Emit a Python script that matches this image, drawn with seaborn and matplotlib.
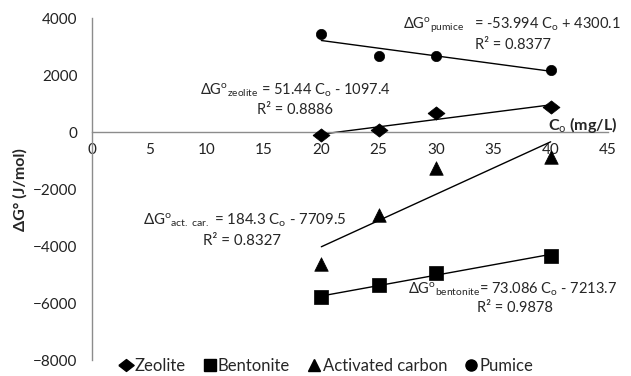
import numpy as np
import pandas as pd
import matplotlib
matplotlib.use("Agg")
import matplotlib.pyplot as plt
import seaborn as sns
from matplotlib.lines import Line2D

# ---- data ----
conc = [20, 25, 30, 40]
zeolite = [-98, 77, 685, 874]
bentonite = [-5798, -5377, -4934, -4348]
act_carbon = [-4646, -2908, -1257, -860]
pumice = [3438, 2676, 2676, 2195]
materials = ["Zeolite", "Bentonite", "Activated carbon", "Pumice"]
slopes = [51.44, 73.086, 184.3, -53.994]
intercepts = [-1097.4, -7213.7, -7709.5, 4300.1]
x_ticks = [0, 5, 10, 15, 20, 25, 30, 35, 40, 45]
y_ticks = [-8000, -6000, -4000, -2000, 0, 2000, 4000]

sns.set_style("white")
plt.rcParams["font.family"] = ["Lato", "DejaVu Sans"]
plt.rcParams["mathtext.fontset"] = "custom"
plt.rcParams["mathtext.rm"] = "Lato"
plt.rcParams["mathtext.it"] = "Lato:italic"
plt.rcParams["mathtext.bf"] = "Lato:bold"

df = pd.DataFrame({
    "Co": conc * 4,
    "dG": zeolite + bentonite + act_carbon + pumice,
    "Material": sum([[m] * len(conc) for m in materials], []),
})

fig = plt.figure(figsize=(6.31, 3.76), dpi=100)
ax = fig.add_axes([92 / 631, 1 - 360 / 376, (608 - 92) / 631, (360 - 18.3) / 376])

wide_diamond = [(-1, 0), (0, 0.78), (1, 0), (0, -0.78), (-1, 0)]
markers = {"Zeolite": wide_diamond, "Bentonite": "s", "Activated carbon": "^", "Pumice": "o"}
sizes_m = {"Zeolite": 150, "Bentonite": 92, "Activated carbon": 95, "Pumice": 55}
for m in materials:
    sub = df[df["Material"] == m]
    sns.scatterplot(data=sub, x="Co", y="dG", marker=markers[m], s=sizes_m[m],
                    color="black", edgecolor="black", linewidth=0.5, ax=ax, legend=False, zorder=3)

# trendlines
xx = np.array([20, 40])
for a, b in zip(slopes, intercepts):
    sns.lineplot(x=xx, y=a * xx + b, color="black", linewidth=1.0, ax=ax, zorder=2)

ax.set_xlim(0, 45)
ax.set_ylim(-8000, 4000)
ax.set_xticks(x_ticks)
ax.set_yticks(y_ticks)
ax.set_xlabel("")
ax.set_ylabel("")
ax.spines["bottom"].set_position(("data", 0))
ax.spines["top"].set_visible(False)
ax.spines["right"].set_visible(False)
for s in ["bottom", "left"]:
    ax.spines[s].set_color("#8c8c8c")
    ax.spines[s].set_linewidth(1.0)
ax.tick_params(axis="x", direction="out", length=4, color="#8c8c8c", labelsize=11, pad=4)
ax.tick_params(axis="y", direction="out", length=4.5, color="#8c8c8c", labelsize=11, pad=6)
for lab in ax.get_xticklabels() + ax.get_yticklabels():
    lab.set_color("#222222")

fig.text(20 / 631, 1 - 190 / 376, "ΔG° (J/mol)", rotation=90, fontweight="bold",
         fontsize=11.5, ha="center", va="center")
ax.text(45.8, 253, r"C$_{\mathrm{o}}$ (mg/L)", fontweight="bold", fontsize=11.5,
        ha="right", va="center")

fs = 10.5
ax.text(27.14, 3765, r"ΔG$^{\mathrm{o}}$$_{\mathrm{pumice}}$   = -53.994 C$_{\mathrm{o}}$ + 4300.1",
        fontsize=fs, ha="left", va="center")
ax.text(33.4, 3062, r"R² = 0.8377", fontsize=fs, ha="left", va="center")
ax.text(9.42, 1482, r"ΔG$^{\mathrm{o}}$$_{\mathrm{zeolite}}$ = 51.44 C$_{\mathrm{o}}$ - 1097.4",
        fontsize=fs, ha="left", va="center")
ax.text(21.03, 780, r"R² = 0.8886", fontsize=fs, ha="right", va="center")
ax.text(4.45, -3083, r"ΔG$^{\mathrm{o}}$$_{\mathrm{act.\ car.}}$ = 184.3 C$_{\mathrm{o}}$ - 7709.5",
        fontsize=10.8, ha="left", va="center")
ax.text(9.69, -3821, r"R² = 0.8327", fontsize=10.8, ha="left", va="center")
ax.text(27.57, -5507, r"ΔG$^{\mathrm{o}}$$_{\mathrm{bentonite}}$= 73.086 C$_{\mathrm{o}}$ - 7213.7",
        fontsize=fs, ha="left", va="center")
ax.text(33.6, -6174, r"R² = 0.9878", fontsize=fs, ha="left", va="center")

handles = [Line2D([], [], marker=markers[m], color="black", linestyle="none",
                  markersize={"Zeolite": 11, "Bentonite": 8, "Activated carbon": 9, "Pumice": 8}[m])
           for m in materials]
fig.legend(handles, materials, loc="center", bbox_to_anchor=(326 / 631, 1 - 366 / 376),
           ncol=4, frameon=False, fontsize=12, handletextpad=0.05, columnspacing=1.0,
           handlelength=0.9, borderpad=0)

fig.savefig("out.png", dpi=100)
